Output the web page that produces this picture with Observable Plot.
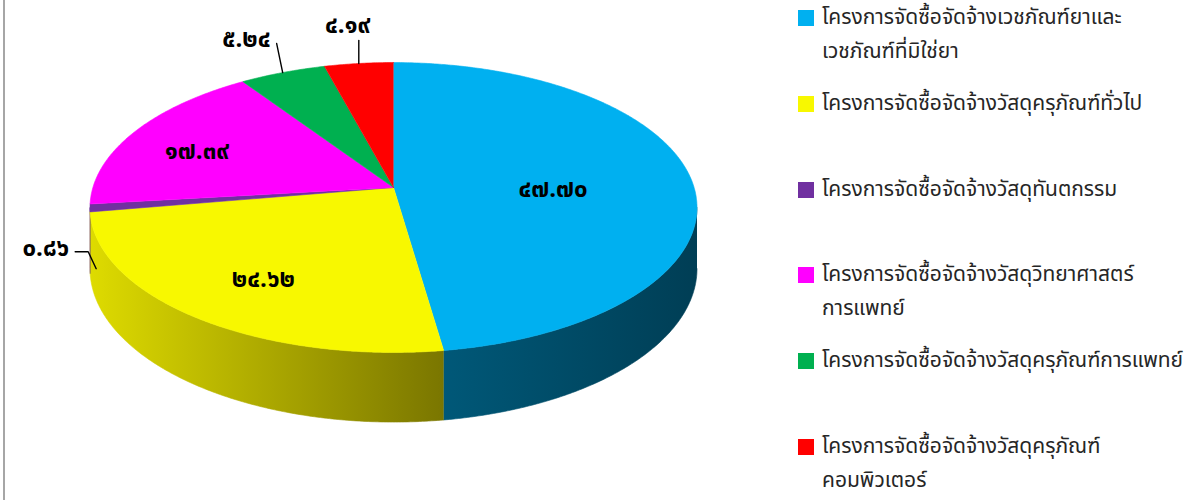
<!DOCTYPE html>
<html>
<head>
<meta charset="utf-8">
<script src="https://cdn.jsdelivr.net/npm/d3@7"></script>
<script src="https://cdn.jsdelivr.net/npm/@observablehq/plot@0.6"></script>
<style>
  html, body { margin: 0; padding: 0; background: #fff; }
  #wrap { position: relative; width: 1200px; height: 500px; overflow: hidden;
          font-family: "Noto Sans Thai", "Leelawadee UI", Tahoma, "DejaVu Sans", "Noto Sans", sans-serif; }
  #wrap::before { content: ""; position: absolute; left: 3px; top: 0; bottom: 0; width: 2px; background: #a6a6a6; z-index: 2; }
  #chart { position: absolute; left: 0; top: 0; }
  #legend { position: absolute; left: 798px; top: 1px; }
  .item { display: flex; align-items: flex-start; height: 85.8px; }
  .sw { width: 16px; height: 16px; margin-top: 9px; margin-right: 8px; flex: none; }
  .txt { font-size: 21px; line-height: 34px; color: #262626; white-space: nowrap; }
</style>
</head>
<body>
<div id="wrap">
  <div id="chart"></div>
  <div id="legend"></div>
</div>
<script>
// ---------- data ----------
const categories = [
  "โครงการจัดซื้อจัดจ้างเวชภัณฑ์ยาและเวชภัณฑ์ที่มิใช่ยา",
  "โครงการจัดซื้อจัดจ้างวัสดุครุภัณฑ์ทั่วไป",
  "โครงการจัดซื้อจัดจ้างวัสดุทันตกรรม",
  "โครงการจัดซื้อจัดจ้างวัสดุวิทยาศาสตร์การแพทย์",
  "โครงการจัดซื้อจัดจ้างวัสดุครุภัณฑ์การแพทย์",
  "โครงการจัดซื้อจัดจ้างวัสดุครุภัณฑ์คอมพิวเตอร์"
];
// legend line wrapping of the category names
const legendLines = [
  ["โครงการจัดซื้อจัดจ้างเวชภัณฑ์ยาและ", "เวชภัณฑ์ที่มิใช่ยา"],
  ["โครงการจัดซื้อจัดจ้างวัสดุครุภัณฑ์ทั่วไป"],
  ["โครงการจัดซื้อจัดจ้างวัสดุทันตกรรม"],
  ["โครงการจัดซื้อจัดจ้างวัสดุวิทยาศาสตร์", "การแพทย์"],
  ["โครงการจัดซื้อจัดจ้างวัสดุครุภัณฑ์การแพทย์"],
  ["โครงการจัดซื้อจัดจ้างวัสดุครุภัณฑ์", "คอมพิวเตอร์"]
];
const values = [47.70, 24.62, 0.86, 17.39, 5.24, 4.19];

// ---------- styles ----------
const topColors = ["#00B0F0", "#F8F800", "#7030A0", "#FF00FF", "#00B050", "#FF0000"];
const sideStops = [
  ["#005878", "#003e55"],
  ["#dedb00", "#7a7600"],
  ["#5e2888", "#4a1f6a"],
  ["#c000c0", "#800080"],
  ["#008840", "#006030"],
  ["#c00000", "#800000"]
];
// label placement: inside (radius fraction) or outside with a leader
const labelLayout = [
  {mode: "in", r: 0.535},
  {mode: "in", r: 0.68},
  {mode: "out", r: 0.98, depth: 1, leader: [[-8, -17], [-21, -17]], text: [-27, -20], anchor: "end"},
  {mode: "in", r: 0.75},
  {mode: "out", r: 1, depth: 0, leader: [[-6, -29]], text: [-12, -33], anchor: "end"},
  {mode: "out", r: 1, depth: 0, leader: [[0, -23]], text: [-11, -38], anchor: "middle"}
];

// ---------- 3-D pie geometry (perspective disc) ----------
const CX = 393, CY = 187, A = 300.6, B = 142.2, P = 0.138, H = 60;
function proj(deg, r = 1, depth = 0) {
  const t = deg * Math.PI / 180;
  const u = r * Math.sin(t), v = r * Math.cos(t);
  const s = 1 / (1 + P * v);
  return [CX + A * u * s, CY - B * v * s + depth * H * s];
}
// visible part of the rim: between the two silhouette points
const rimR = Math.acos(-P) * 180 / Math.PI, rimL = 360 - rimR;

const total = d3.sum(values);
let acc = 0;
const slices = values.map((v, i) => {
  const a0 = acc / total * 360;
  acc += v;
  const a1 = acc / total * 360;
  return {i, v, a0, a1, mid: (a0 + a1) / 2};
});
function arcAngles(a0, a1) {
  const n = Math.max(2, Math.ceil((a1 - a0) / 0.5));
  return d3.range(n + 1).map(k => a0 + (a1 - a0) * k / n);
}

const topPts = [];
for (const s of slices) {
  topPts.push({id: s.i, x: CX, y: CY, fill: topColors[s.i]});
  for (const a of arcAngles(s.a0, s.a1)) {
    const [x, y] = proj(a);
    topPts.push({id: s.i, x, y, fill: topColors[s.i]});
  }
}
const sidePts = [];
for (const s of slices) {
  const b0 = Math.max(s.a0, rimR), b1 = Math.min(s.a1, rimL);
  if (b1 <= b0) continue;
  const angs = arcAngles(b0, b1);
  const f = `url(#side${s.i})`;
  for (const a of angs) { const [x, y] = proj(a, 1, 0); sidePts.push({id: s.i, x, y, fill: f}); }
  for (const a of angs.slice().reverse()) { const [x, y] = proj(a, 1, 1); sidePts.push({id: s.i, x, y, fill: f}); }
}

const thaiDigits = "๐๑๒๓๔๕๖๗๘๙";
const fmt = v => v.toFixed(2).replace(/\d/g, d => thaiDigits[+d]);

const labels = [], leaders = [];
for (const s of slices) {
  const L = labelLayout[s.i];
  if (L.mode === "in") {
    const [x, y] = proj(s.mid, L.r, 0);
    labels.push({x, y: y + 7, text: fmt(s.v), anchor: "middle"});
  } else {
    const [x0, y0] = proj(s.mid, L.r, L.depth);
    leaders.push({id: s.i, x: x0, y: y0});
    for (const [dx, dy] of L.leader) leaders.push({id: s.i, x: x0 + dx, y: y0 + dy});
    labels.push({x: x0 + L.text[0], y: y0 + L.text[1], text: fmt(s.v), anchor: L.anchor});
  }
}

const fontFam = '"Noto Sans Thai", "Leelawadee UI", Tahoma, "DejaVu Sans", "Noto Sans", sans-serif';
const textOpts = {x: "x", y: "y", text: "text", fontSize: 24, fontWeight: "bold", fill: "#000", fontFamily: fontFam};

const svg = Plot.plot({
  width: 1200, height: 500, margin: 0,
  x: {type: "linear", domain: [0, 1200], range: [0, 1200], axis: null},
  y: {type: "linear", domain: [0, 500], range: [0, 500], axis: null},
  color: {type: "identity"},
  style: {background: "transparent", overflow: "visible"},
  marks: [
    Plot.line(sidePts, {x: "x", y: "y", z: "id", fill: "fill", stroke: "fill", strokeWidth: 0.6}),
    Plot.line(topPts, {x: "x", y: "y", z: "id", fill: "fill", stroke: "fill", strokeWidth: 0.6}),
    Plot.line(leaders, {x: "x", y: "y", z: "id", stroke: "#000", strokeWidth: 1.4, curve: "linear"}),
    Plot.text(labels.filter(d => d.anchor === "middle"), {...textOpts, textAnchor: "middle"}),
    Plot.text(labels.filter(d => d.anchor === "end"), {...textOpts, textAnchor: "end"})
  ]
});

// side-face shading gradients
const defs = d3.select(svg).insert("defs", ":first-child");
sideStops.forEach((st, i) => {
  const g = defs.append("linearGradient").attr("id", `side${i}`)
    .attr("x1", 0).attr("x2", 1).attr("y1", 0).attr("y2", 0);
  g.append("stop").attr("offset", 0).attr("stop-color", st[0]);
  g.append("stop").attr("offset", 1).attr("stop-color", st[1]);
});
document.getElementById("chart").appendChild(svg);

// legend
const legend = d3.select("#legend");
categories.forEach((c, i) => {
  const it = legend.append("div").attr("class", "item").attr("title", c);
  it.append("div").attr("class", "sw").style("background", topColors[i]);
  const t = it.append("div").attr("class", "txt");
  legendLines[i].forEach(line => t.append("div").text(line));
});
</script>
</body>
</html>
